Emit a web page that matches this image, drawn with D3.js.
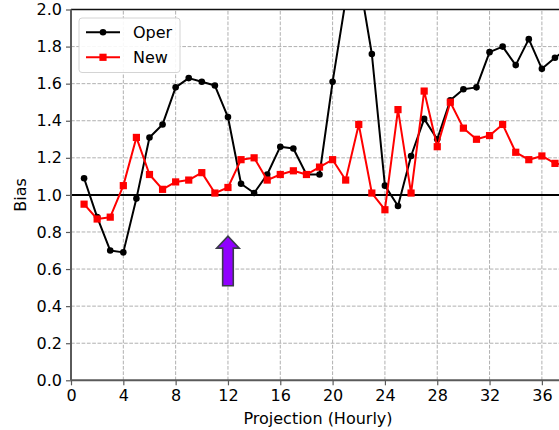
<!DOCTYPE html>
<head>
    <meta charset="utf-8">
    <title>Bias by projection hour</title>
    <style>
        body { margin: 0; background: #fff; overflow: hidden; }
        text { font-family: "DejaVu Sans", sans-serif; }
    </style>
</head>
<body>

<script src="https://cdnjs.cloudflare.com/ajax/libs/d3/7.8.5/d3.min.js"></script>

<script>

    var hours = [1, 2, 3, 4, 5, 6, 7, 8, 9, 10, 11, 12, 13, 14, 15, 16, 17, 18, 19,
        20, 21, 22, 23, 24, 25, 26, 27, 28, 29, 30, 31, 32, 33, 34, 35, 36, 37, 38];

    var oper = [1.09, 0.88, 0.70, 0.69, 0.98, 1.31, 1.38, 1.58, 1.63, 1.61, 1.59, 1.42, 1.06,
        1.01, 1.11, 1.26, 1.25, 1.11, 1.11, 1.61, 2.05, 2.18, 1.76, 1.05, 0.94, 1.21,
        1.41, 1.30, 1.51, 1.57, 1.58, 1.77, 1.80, 1.70, 1.84, 1.68, 1.74, 1.79];

    var newRun = [0.95, 0.87, 0.88, 1.05, 1.31, 1.11, 1.03, 1.07, 1.08, 1.12, 1.01, 1.04, 1.19,
        1.20, 1.08, 1.11, 1.13, 1.11, 1.15, 1.19, 1.08, 1.38, 1.01, 0.92, 1.46, 1.01,
        1.56, 1.26, 1.50, 1.36, 1.30, 1.32, 1.38, 1.23, 1.19, 1.21, 1.17, 1.16];

    var xTicks = [0, 4, 8, 12, 16, 20, 24, 28, 32, 36];
    var yTicks = [0.0, 0.2, 0.4, 0.6, 0.8, 1.0, 1.2, 1.4, 1.6, 1.8, 2.0];

    // arrow annotation (data units): x, bottom, head base, tip
    var arrowAt = {x: 12, y0: 0.51, yHead: 0.713, y1: 0.777};

    var series = [
        {name: 'Oper', values: oper, color: '#000', marker: 'circle'},
        {name: 'New', values: newRun, color: '#ff0000', marker: 'square'}
    ];

    var W = 559, H = 430;
    var margin = {top: 9.5, left: 71, bottom: 50};
    var plotBottom = H - margin.bottom + 0.3;
    var xMax = 40;

    var x = d3.scaleLinear()
        .domain([0, xMax])
        .range([margin.left, margin.left + xMax * 13.08]);

    var y = d3.scaleLinear()
        .domain([0, 2])
        .range([plotBottom, margin.top]);

    var svg = d3.select('body').append('svg')
        .attr('width', W)
        .attr('height', H);

    svg.append('defs').append('clipPath')
        .attr('id', 'plotclip')
        .append('rect')
        .attr('x', margin.left)
        .attr('y', margin.top)
        .attr('width', x(xMax) - margin.left)
        .attr('height', plotBottom - margin.top);

    // grid
    var grid = svg.append('g')
        .attr('stroke', '#b0b0b0')
        .attr('stroke-width', 1)
        .attr('stroke-dasharray', '3.7,1.6');

    grid.selectAll('.vgrid')
        .data(xTicks.filter(function(d) { return d > 0; }))
        .enter().append('line')
        .attr('x1', function(d) { return x(d); })
        .attr('x2', function(d) { return x(d); })
        .attr('y1', y(0))
        .attr('y2', y(2));

    grid.selectAll('.hgrid')
        .data(yTicks.filter(function(d) { return d > 0 && d < 2; }))
        .enter().append('line')
        .attr('x1', x(0))
        .attr('x2', x(xMax))
        .attr('y1', function(d) { return y(d); })
        .attr('y2', function(d) { return y(d); });

    // reference line at bias = 1
    svg.append('line')
        .attr('x1', x(0))
        .attr('x2', x(xMax))
        .attr('y1', y(1))
        .attr('y2', y(1))
        .attr('stroke', '#000')
        .attr('stroke-width', 2);

    var plot = svg.append('g')
        .attr('clip-path', 'url(#plotclip)');

    var line = d3.line()
        .x(function(d, i) { return x(hours[i]); })
        .y(function(d) { return y(d); });

    series.forEach(function(s) {
        var g = plot.append('g');

        g.append('path')
            .attr('d', line(s.values))
            .attr('fill', 'none')
            .attr('stroke', s.color)
            .attr('stroke-width', 2)
            .attr('stroke-linejoin', 'round');

        if (s.marker === 'circle') {
            g.selectAll('circle')
                .data(s.values)
                .enter().append('circle')
                .attr('cx', function(d, i) { return x(hours[i]); })
                .attr('cy', function(d) { return y(d); })
                .attr('r', 3.3)
                .attr('fill', s.color);
        } else {
            g.selectAll('rect')
                .data(s.values)
                .enter().append('rect')
                .attr('x', function(d, i) { return x(hours[i]) - 3.6; })
                .attr('y', function(d) { return y(d) - 3.6; })
                .attr('width', 7.2)
                .attr('height', 7.2)
                .attr('fill', s.color);
        }
    });

    // arrow
    var ax = x(arrowAt.x), shaftW = 5.3, headW = 11.3;
    var arrowPts = [
        [ax - shaftW, y(arrowAt.y0)],
        [ax - shaftW, y(arrowAt.yHead)],
        [ax - headW, y(arrowAt.yHead)],
        [ax, y(arrowAt.y1)],
        [ax + headW, y(arrowAt.yHead)],
        [ax + shaftW, y(arrowAt.yHead)],
        [ax + shaftW, y(arrowAt.y0)]
    ];
    svg.append('path')
        .attr('d', 'M' + arrowPts.join('L') + 'Z')
        .attr('fill', '#9000ff')
        .attr('stroke', '#3b3b4b')
        .attr('stroke-width', 1.6)
        .attr('stroke-linejoin', 'miter');

    // top spine
    svg.append('line')
        .attr('x1', x(0)).attr('x2', x(xMax))
        .attr('y1', y(2)).attr('y2', y(2))
        .attr('stroke', '#111').attr('stroke-width', 1.5);

    var xAxis = d3.axisBottom(x)
        .tickValues(xTicks)
        .tickSize(5)
        .tickPadding(4)
        .tickFormat(d3.format('d'));

    var yAxis = d3.axisLeft(y)
        .tickValues(yTicks)
        .tickSize(5)
        .tickPadding(4)
        .tickFormat(d3.format('.1f'));

    var gx = svg.append('g')
        .attr('transform', 'translate(0,' + y(0) + ')')
        .call(xAxis);

    var gy = svg.append('g')
        .attr('transform', 'translate(' + x(0) + ',0)')
        .call(yAxis);

    [gx, gy].forEach(function(g) {
        g.select('.domain').attr('stroke', '#5a5a5a').attr('stroke-width', 2);
        g.selectAll('.tick line').attr('stroke', '#5a5a5a').attr('stroke-width', 1.2);
        g.selectAll('.tick text')
            .attr('fill', '#000')
            .style('font-size', '16px')
            .style('font-family', '"DejaVu Sans", sans-serif');
    });
    gx.select('.domain').attr('d', 'M' + x(0) + ',0H' + x(xMax));
    gy.select('.domain').attr('d', 'M0,' + y(0) + 'V' + y(2));

    svg.append('text')
        .attr('x', 318)
        .attr('y', 424)
        .attr('text-anchor', 'middle')
        .attr('font-size', '16px')
        .text('Projection (Hourly)');

    svg.append('text')
        .attr('transform', 'translate(26,' + ((y(0) + y(2)) / 2) + ') rotate(-90)')
        .attr('text-anchor', 'middle')
        .attr('font-size', '16px')
        .text('Bias');

    // legend
    var legend = svg.append('g')
        .attr('transform', 'translate(79,18)');

    legend.append('rect')
        .attr('width', 101)
        .attr('height', 54.5)
        .attr('rx', 3)
        .attr('fill', '#fff')
        .attr('fill-opacity', 0.9)
        .attr('stroke', '#d4d4d4')
        .attr('stroke-width', 1);

    series.forEach(function(s, i) {
        var row = legend.append('g')
            .attr('transform', 'translate(0,' + (14.3 + i * 25) + ')');

        row.append('line')
            .attr('x1', 7).attr('x2', 41)
            .attr('stroke', s.color)
            .attr('stroke-width', 2);

        if (s.marker === 'circle') {
            row.append('circle').attr('cx', 24).attr('r', 3.3).attr('fill', s.color);
        } else {
            row.append('rect').attr('x', 20.4).attr('y', -3.6)
                .attr('width', 7.2).attr('height', 7.2).attr('fill', s.color);
        }

        row.append('text')
            .attr('x', 54)
            .attr('y', 6)
            .attr('font-size', '16px')
            .text(s.name);
    });

</script>

</body>
